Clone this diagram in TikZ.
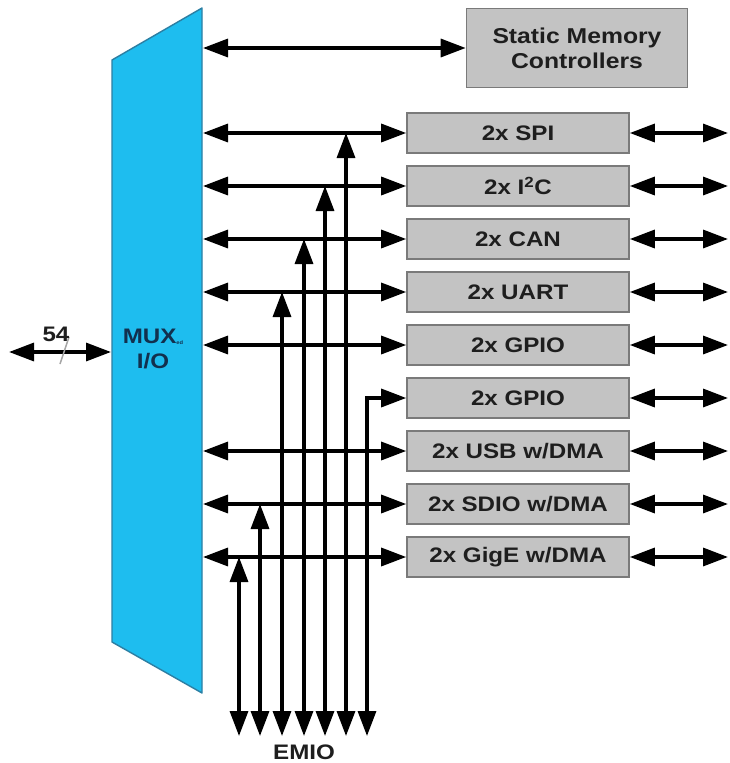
\documentclass[tikz,border=0pt]{standalone}
\usepackage{fontspec}
\setmainfont{Liberation Sans}[FakeStretch=1.15]
\usetikzlibrary{arrows.meta}
\definecolor{muxfill}{HTML}{1EBDEF}
\definecolor{muxedge}{HTML}{2C7FA3}
\definecolor{boxfill}{HTML}{C3C3C3}
\definecolor{boxedge}{HTML}{7A7A7A}
\definecolor{muxtext}{HTML}{12304E}
\definecolor{txt}{HTML}{1E1E1E}
\tikzset{
  blk/.style={draw=boxedge, fill=boxfill, line width=1.6pt, minimum width=222pt, minimum height=40pt,
    inner sep=0pt, font=\bfseries\fontsize{21}{23}\selectfont, text=txt},
  head/.tip={Triangle[length=25pt,width=18pt]},
  bidir/.style={line width=3.3pt, black, {head}-{head}},
}
\begin{document}
\begin{tikzpicture}[x=1pt,y=-1pt]
\fill[white] (0,0) rectangle (730,763);
\useasboundingbox (0,0) rectangle (730,763);
% MUX block
\draw[fill=muxfill, draw=muxedge, line width=1.4pt, line join=round]
  (112,60) -- (202,8) -- (202,693) -- (112,642) -- cycle;
\node[font=\bfseries\fontsize{21}{23}\selectfont, text=muxtext, align=center] (mux) at (153,349)
  {MUX\raisebox{-1pt}{\fontsize{5}{5}\selectfont ed}\\[2pt]I/O};
% boxes
\node[blk, minimum width=221pt, minimum height=79pt, align=center, font=\bfseries\fontsize{21.5}{25}\selectfont] (smc) at (577,48) {Static Memory\\Controllers};
\node[blk] (spi)   at (518,133) {2x SPI};
\node[blk] (i2c)   at (518,186) {2x I\textsuperscript{2}C};
\node[blk] (can)   at (518,239) {2x CAN};
\node[blk] (uart)  at (518,292) {2x UART};
\node[blk] (gpioa) at (518,345) {2x GPIO};
\node[blk] (gpiob) at (518,398) {2x GPIO};
\node[blk] (usb)   at (518,451) {2x USB w/DMA};
\node[blk] (sdio)  at (518,504) {2x SDIO w/DMA};
\node[blk] (gige)  at (518,557) {2x GigE w/DMA};
% MUX edge coordinates
\coordinate (msmc) at (203,48);
\foreach \n/\y in {spi/133,i2c/186,can/239,uart/292,gpioa/345,usb/451,sdio/504,gige/557}{
  \coordinate (m\n) at (203,\y);
  \coordinate (r\n) at (728,\y);
}
\coordinate (rgpiob) at (728,398);
% left bus
\coordinate (busl) at (9,352);
\coordinate (busr) at (111,352);
\draw[bidir] (busl) -- (busr);
\coordinate (sl1) at (60,364);
\coordinate (sl2) at (69,337);
\draw[gray!70, line width=1.5pt] (sl1) -- (sl2);
\node[font=\bfseries\fontsize{21}{23}\selectfont, text=txt] (n54) at (56,334) {54};
% horizontal arrows
\draw[bidir] (msmc) -- (smc.west);
\foreach \n in {spi,i2c,can,uart,gpioa,usb,sdio,gige}{
  \draw[bidir] (m\n) -- (\n.west);
}
\foreach \n in {spi,i2c,can,uart,gpioa,gpiob,usb,sdio,gige}{
  \draw[bidir] (\n.east) -- (r\n);
}
% EMIO verticals
\foreach \i/\x in {1/239,2/260,3/282,4/304,5/325,6/346,7/367}{
  \coordinate (e\i) at (\x,736);
}
\draw[bidir] (e6) -- (e6 |- spi.west);
\draw[bidir] (e5) -- (e5 |- i2c.west);
\draw[bidir] (e4) -- (e4 |- can.west);
\draw[bidir] (e3) -- (e3 |- uart.west);
\draw[bidir] (e2) -- (e2 |- sdio.west);
\draw[bidir] (e1) -- (e1 |- gige.west);
\draw[bidir, line join=miter] (e7) -- (e7 |- gpiob.west) -- (gpiob.west);
\node[font=\bfseries\fontsize{21}{23}\selectfont, text=txt] (emio) at (304,752) {EMIO};
\end{tikzpicture}
\end{document}
